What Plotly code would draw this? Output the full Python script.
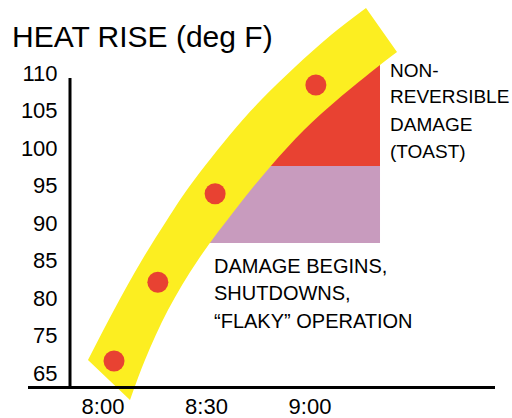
import plotly.graph_objects as go

# ---- data (x: minutes after 8:00, y: heat rise on the chart's axis scale) ----
time_labels = ["8:00", "8:30", "9:00"]
time_ticks = [0, 30, 60]
y_tick_labels = ["65", "75", "80", "85", "90", "95", "100", "105", "110"]
y_tick_vals = [70, 75, 80, 85, 90, 95, 100, 105, 110]

obs_time = [3.2, 15.9, 32.5, 61.7]
obs_heat = [71.6, 82.1, 93.9, 108.4]

# trend band edges
band_inner_x = [7.83, 12.17, 18.84, 27.54, 38.26, 48.41, 58.26, 67.83, 80.29, 85.22]
band_inner_y = [66.40, 71.73, 78.40, 85.07, 91.73, 97.47, 102.40, 106.40, 111.07, 112.80]
band_outer_x = [-4.35, 3.19, 11.30, 18.55, 24.93, 37.97, 45.80, 55.65, 66.09, 76.23]
band_outer_y = [71.73, 78.40, 85.07, 90.40, 94.80, 102.40, 106.40, 110.80, 115.07, 118.67]

# damage zones
toast_x = [80.29, 80.29, 45.51, 74.49]
toast_y = [111.07, 97.6, 97.6, 111.07]
flaky_x = [80.29, 80.29, 23.77, 39.71]
flaky_y = [97.6, 87.33, 87.33, 97.6]

toast_lines = ["NON-", "REVERSIBLE", "DAMAGE", "(TOAST)"]
toast_label_x = 82.6
toast_label_y = [110.27, 106.93, 103.2, 99.6]
flaky_lines = ["DAMAGE BEGINS,", "SHUTDOWNS,", "\u201cFLAKY\u201d OPERATION"]
flaky_label_x = 31.6
flaky_label_y = [84.33, 80.67, 76.93]

YELLOW = "#FCEE21"
RED = "#E84232"
PURPLE = "#C89BBE"
FONT = "Liberation Sans, Arial, Helvetica, sans-serif"

fig = go.Figure()
fig.add_trace(go.Scatter(x=toast_x, y=toast_y, fill="toself", fillcolor=RED,
                         mode="lines", line=dict(width=0), hoverinfo="skip"))
fig.add_trace(go.Scatter(x=flaky_x, y=flaky_y, fill="toself", fillcolor=PURPLE,
                         mode="lines", line=dict(width=0), hoverinfo="skip"))
fig.add_trace(go.Scatter(x=band_inner_x, y=band_inner_y, mode="lines",
                         line=dict(width=0, shape="spline", color=YELLOW), hoverinfo="skip"))
fig.add_trace(go.Scatter(x=band_outer_x, y=band_outer_y, mode="lines", fill="tonexty",
                         fillcolor=YELLOW,
                         line=dict(width=0, shape="spline", color=YELLOW), hoverinfo="skip"))
fig.add_trace(go.Scatter(x=obs_time, y=obs_heat, mode="markers",
                         marker=dict(size=21, color=RED, line=dict(width=0))))

for txt, yy in zip(toast_lines, toast_label_y):
    fig.add_annotation(x=toast_label_x, y=yy, text=txt, showarrow=False,
                       xanchor="left", yanchor="middle",
                       font=dict(family=FONT, size=19, color="black"))
for txt, yy in zip(flaky_lines, flaky_label_y):
    fig.add_annotation(x=flaky_label_x, y=yy, text=txt, showarrow=False,
                       xanchor="left", yanchor="middle",
                       font=dict(family=FONT, size=20, color="black"))

L, R, T, B = 60, 17, 0, 16
W, H = 512, 418
pw, ph = W - L - R, H - T - B
xaxis_py = 387.5
yaxis_px = 70

fig.update_layout(
    width=W, height=H, autosize=False,
    margin=dict(l=L, r=R, t=T, b=B),
    paper_bgcolor="white", plot_bgcolor="white",
    showlegend=False,
    title=dict(text="HEAT RISE (deg F)", x=12 / W, xanchor="left", xref="container",
               y=1 - 36 / H, yanchor="middle", yref="container",
               font=dict(family=FONT, size=30, color="black")),
    xaxis=dict(range=[-12.46, 113.62], tickvals=time_ticks, ticktext=time_labels,
               showgrid=False, zeroline=False, showline=False, automargin=False,
               anchor="free", position=(H - B - xaxis_py) / ph,
               ticks="", ticklabelstandoff=3,
               tickfont=dict(family=FONT, size=22, color="black")),
    yaxis=dict(range=[66.133, 119.733], tickvals=y_tick_vals, ticktext=y_tick_labels,
               showgrid=False, zeroline=False, showline=False, automargin=False,
               anchor="free", position=(yaxis_px - L) / pw,
               ticks="outside", ticklen=8, tickcolor="rgba(0,0,0,0)",
               tickfont=dict(family=FONT, size=22, color="black")),
)

# axis lines
fig.add_shape(type="line", xref="paper", yref="paper",
              x0=(28 - L) / pw, x1=1.0,
              y0=(H - B - xaxis_py) / ph, y1=(H - B - xaxis_py) / ph,
              line=dict(color="black", width=3), layer="above")
fig.add_shape(type="line", xref="paper", yref="paper",
              x0=(yaxis_px - L) / pw, x1=(yaxis_px - L) / pw,
              y0=(H - B - 389) / ph, y1=(H - B - 78) / ph,
              line=dict(color="black", width=3), layer="above")

fig.write_html("out.html",
               config=dict(displayModeBar=False, responsive=False),
               post_script="document.body.style.margin='0';"
                           "document.documentElement.style.overflow='hidden';"
                           "document.body.style.overflow='hidden';")
